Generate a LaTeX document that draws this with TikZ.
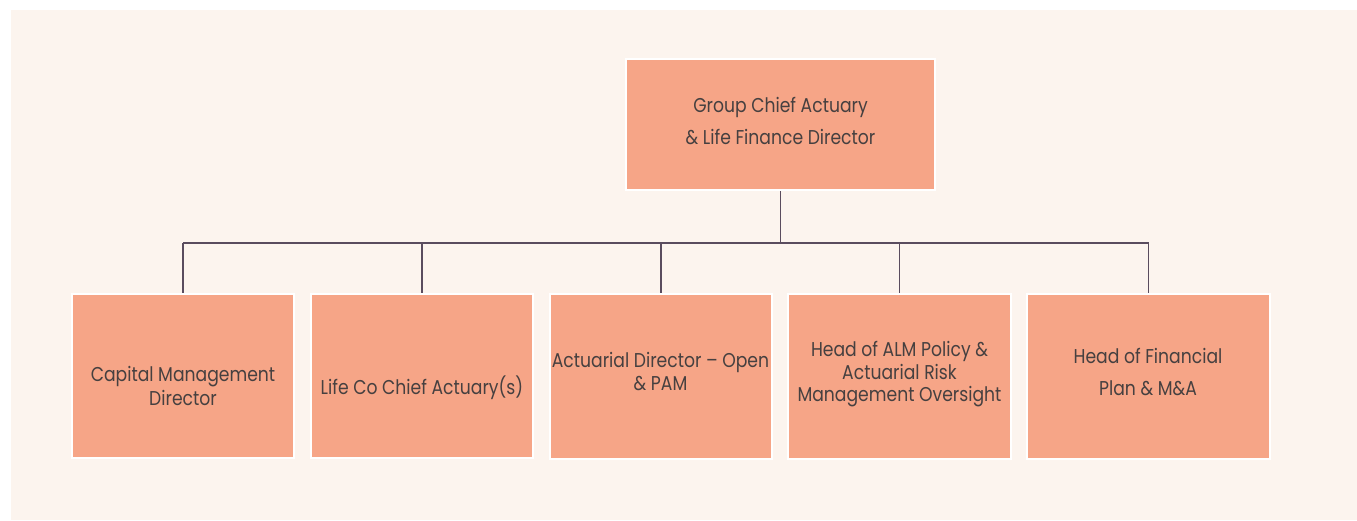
\documentclass[tikz,border=0pt]{standalone}
\usepackage{fontspec}
\setmainfont[FakeStretch=0.86]{Poppins}
\definecolor{panel}{HTML}{FCF4EE}
\definecolor{boxfill}{HTML}{F6A587}
\definecolor{linkc}{HTML}{5A4C5E}
\definecolor{txt}{HTML}{464040}
\begin{document}
\begin{tikzpicture}[x=1pt,y=-1pt,
  rolebox/.style={draw=white,line width=2pt,fill=boxfill,inner sep=0pt},
  link/.style={draw=linkc,line width=1.4pt},
  lbl/.style={anchor=base,inner sep=0pt,text=txt,font=\fontsize{20}{24}\selectfont}]
\useasboundingbox (0,0) rectangle (1357,520);
\fill[white] (0,0) rectangle (1357,520);
\fill[panel] (11,10) rectangle (1357,520);

% junction points of the reporting lines
\coordinate (bus) at (780.5,243);
\coordinate (busL) at (183,243);
\coordinate (busR) at (1148.5,243);

% role boxes (fill size + 2 for the white border)
\node[rolebox,minimum width=309pt,minimum height=131pt] (top) at (780.5,124.5) {};
\node[rolebox,minimum width=222pt,minimum height=164pt] (b1) at (183,376) {};
\node[rolebox,minimum width=222pt,minimum height=164pt] (b2) at (422,376) {};
\node[rolebox,minimum width=222pt,minimum height=165pt] (b3) at (661,376.5) {};
\node[rolebox,minimum width=223pt,minimum height=165pt] (b4) at (899.5,376.5) {};
\node[rolebox,minimum width=243pt,minimum height=165pt] (b5) at (1148.5,376.5) {};

% reporting lines
\draw[link] (top.south) -- (bus);
\draw[link] (busL) -- (busR);
\foreach \b in {b1,b2,b3,b4,b5} {
  \draw[link] (bus -| \b.north) -- (\b.north);
}

% role titles
\node[lbl] (t0a) at (780.5,112) {Group Chief Actuary};
\node[lbl] (t0b) at (780.5,144) {\& Life Finance Director};
\node[lbl] (t1a) at (183,381.7) {Capital Management};
\node[lbl] (t1b) at (183,405) {Director};
\node[lbl] (t2a) at (422,394.3) {Life Co Chief Actuary(s)};
\node[lbl] (t3a) at (660.5,367.3) {Actuarial Director – Open};
\node[lbl] (t3b) at (660.5,390) {\& PAM};
\node[lbl] (t4a) at (899.5,356) {Head of ALM Policy \&};
\node[lbl] (t4b) at (899.5,379.3) {Actuarial Risk};
\node[lbl] (t4c) at (899.5,401.7) {Management Oversight};
\node[lbl] (t5a) at (1148,363.3) {Head of Financial};
\node[lbl] (t5b) at (1148,395) {Plan \& M\&A};
\end{tikzpicture}
\end{document}
